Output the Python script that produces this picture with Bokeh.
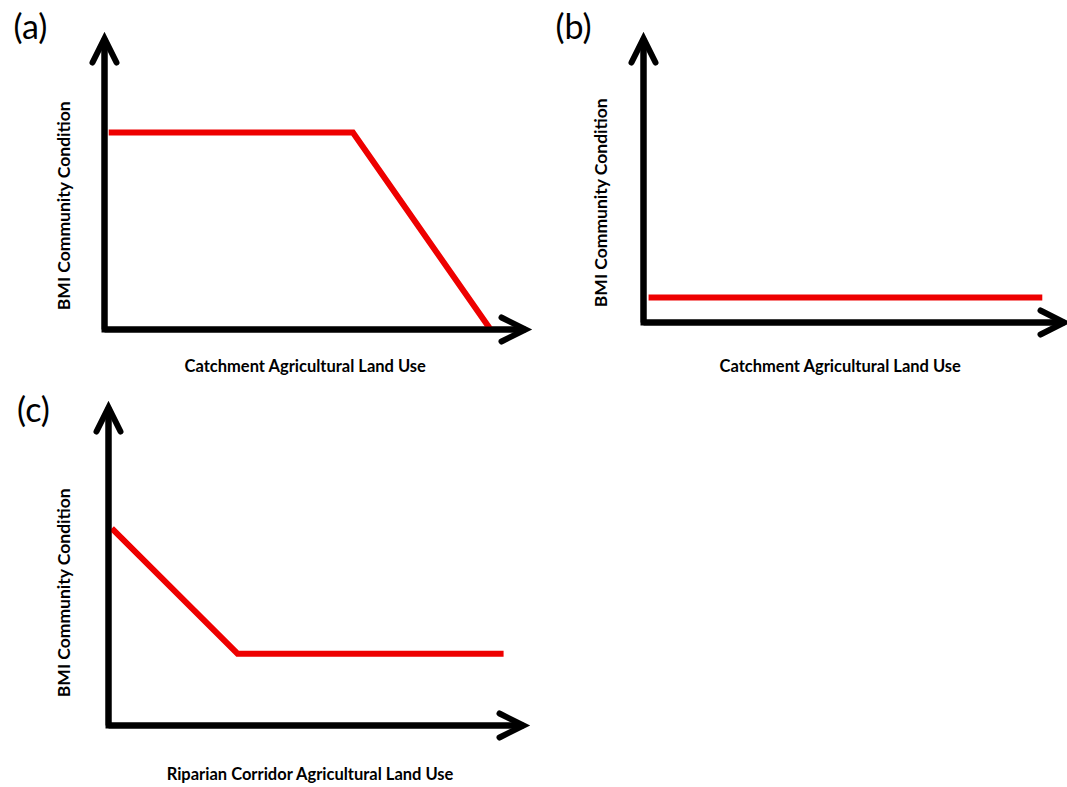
import math
from bokeh.plotting import figure
from bokeh.models import Arrow, OpenHead, Label, Range1d
from bokeh.layouts import row, column
from bokeh.embed import file_html
from bokeh.resources import INLINE

# ---------------- data (conceptual curves, axis units: 0 = origin, 1 = arrow tip) -------------
panel_tags = ["(a)", "(b)", "(c)"]
x_titles = ["Catchment Agricultural Land Use",
            "Catchment Agricultural Land Use",
            "Riparian Corridor Agricultural Land Use"]
y_title = "BMI Community Condition"

a_x = [0.01, 0.59, 0.917]
a_y = [0.677, 0.677, 0.0]

b_x = [0.012, 0.945]
b_y = [0.088, 0.088]

c_x = [0.008, 0.311, 0.952]
c_y = [0.62, 0.226, 0.226]

# ---------------- layout geometry (page pixels) ----------------
MARGIN = 0
PAGE_W = 1067
RED = "#ee0000"
FONT = "Lato"

geom = [
    dict(box=(0, 0, 540, 378), origin=(104, 329), xtip=525, ytip=38,
         tag=(30, 25), xlab=(305, 365), ylab=(63, 205), data=(a_x, a_y)),
    dict(box=(540, 0, 527, 378), origin=(643, 322), xtip=1065, ytip=38,
         tag=(573, 25), xlab=(840, 365), ylab=(600, 202), data=(b_x, b_y)),
    dict(box=(0, 378, 540, 409), origin=(108, 725), xtip=523, ytip=407,
         tag=(33, 408), xlab=(310, 773), ylab=(63, 592), data=(c_x, c_y)),
]


def make_panel(i, g):
    left, top, w, h = g["box"]
    ox, oy = g["origin"]
    sx = g["xtip"] - ox
    sy = oy - g["ytip"]
    fx0 = ox - MARGIN - left
    fy0_bottom = h - (oy - MARGIN - top)
    xr = Range1d(-fx0 / sx, (w - fx0) / sx)
    yr = Range1d(-fy0_bottom / sy, (h - fy0_bottom) / sy)

    p = figure(width=w, height=h, x_range=xr, y_range=yr,
               x_axis_location=None, y_axis_location=None,
               toolbar_location=None, output_backend="svg",
               min_border=0, outline_line_color=None,
               background_fill_color="white", border_fill_color="white")
    p.grid.visible = False

    # clip x-arrow tip to page width
    max_tip = MARGIN + PAGE_W - 3
    x_end = (min(g["xtip"], max_tip) - ox) / sx

    # axes (corner + shafts)
    p.line([0, 0, x_end], [1, 0, 0], line_color="black", line_width=6,
           line_join="miter")
    for (xs, ys, xe, ye) in [(0, 0, 0, 1), (0, 0, x_end, 0)]:
        p.add_layout(Arrow(x_start=xs, y_start=ys, x_end=xe, y_end=ye,
                           line_width=6, line_color="black",
                           end=OpenHead(size=24, line_width=6, line_color="black",
                                        line_join="miter", line_cap="round")))

    # red conceptual response
    dx, dy = g["data"]
    p.line(dx, dy, line_color=RED, line_width=6, line_join="miter")

    def scr(pt):
        X, Y = pt
        return X - MARGIN - left, h - (Y - MARGIN - top)

    tx, ty = scr(g["tag"])
    p.add_layout(Label(x=tx, y=ty, x_units="screen", y_units="screen",
                       text=panel_tags[i], text_font=FONT,
                       text_font_size="34px", text_align="center",
                       text_baseline="middle", text_color="black"))
    lx, ly = scr(g["xlab"])
    p.add_layout(Label(x=lx, y=ly, x_units="screen", y_units="screen",
                       text=x_titles[i], text_font=FONT,
                       text_font_size="16.5px", text_font_style="bold",
                       text_align="center", text_baseline="middle",
                       text_color="black"))
    yx, yy = scr(g["ylab"])
    p.add_layout(Label(x=yx, y=yy, x_units="screen", y_units="screen",
                       text=y_title, text_font=FONT,
                       text_font_size="17.5px", text_font_style="bold",
                       angle=math.pi / 2, text_align="center",
                       text_baseline="middle", text_color="black"))
    return p


pa, pb, pc = [make_panel(i, g) for i, g in enumerate(geom)]
layout = row(column(pa, pc), pb)

open("out.html", "w").write(file_html(layout, INLINE))
